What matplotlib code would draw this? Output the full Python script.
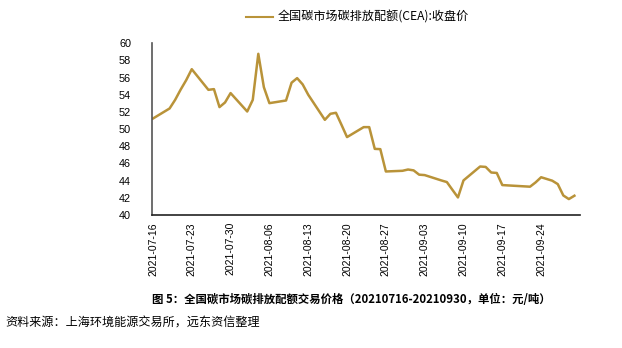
import matplotlib.pyplot as plt
import matplotlib.dates as mdates
from matplotlib.lines import Line2D
import pandas as pd

plt.rcParams['font.family'] = ['Liberation Sans', 'Noto Sans CJK SC', 'DejaVu Sans']

# CEA daily close, yuan/t (trading days only)
dates = [
    '2021-07-16', '2021-07-19', '2021-07-20', '2021-07-21', '2021-07-22', '2021-07-23',
    '2021-07-26', '2021-07-27', '2021-07-28', '2021-07-29', '2021-07-30',
    '2021-08-02', '2021-08-03', '2021-08-04', '2021-08-05', '2021-08-06',
    '2021-08-09', '2021-08-10', '2021-08-11', '2021-08-12', '2021-08-13',
    '2021-08-16', '2021-08-17', '2021-08-18', '2021-08-19', '2021-08-20',
    '2021-08-23', '2021-08-24', '2021-08-25', '2021-08-26', '2021-08-27',
    '2021-08-30', '2021-08-31', '2021-09-01', '2021-09-02', '2021-09-03',
    '2021-09-06', '2021-09-07', '2021-09-08', '2021-09-09', '2021-09-10',
    '2021-09-13', '2021-09-14', '2021-09-15', '2021-09-16', '2021-09-17', '2021-09-18',
    '2021-09-22', '2021-09-23', '2021-09-24', '2021-09-26',
    '2021-09-27', '2021-09-28', '2021-09-29', '2021-09-30',
]
close = [
    51.23, 52.40, 53.40, 54.60, 55.70, 56.97,
    54.57, 54.65, 52.56, 53.10, 54.19,
    52.05, 53.40, 58.76, 54.88, 53.02,
    53.33, 55.40, 55.93, 55.20, 54.00,
    51.08, 51.78, 51.90, 50.50, 49.07,
    50.23, 50.23, 47.70, 47.67, 45.07,
    45.15, 45.30, 45.20, 44.70, 44.65,
    44.03, 43.84, 42.94, 42.05, 44.03,
    45.65, 45.60, 44.95, 44.90, 43.49, 43.45,
    43.30, 43.80, 44.40, 44.00,
    43.60, 42.28, 41.86, 42.25,
]
tick_dates = ['2021-07-16', '2021-07-23', '2021-07-30', '2021-08-06', '2021-08-13',
              '2021-08-20', '2021-08-27', '2021-09-03', '2021-09-10', '2021-09-17',
              '2021-09-24']

x = pd.to_datetime(dates)
gold = '#B99339'
cjk = ['Noto Sans CJK SC', 'DejaVu Sans']

fig = plt.figure(figsize=(6.22, 3.48), dpi=100)
ax = fig.add_axes([0.2444, 0.382, 0.688, 0.494])
ax.plot(x, close, color=gold, lw=1.8)

ax.set_ylim(40, 60)
ax.set_yticks(range(40, 61, 2))
ax.set_xlim(pd.Timestamp('2021-07-16') - pd.Timedelta(hours=4), pd.Timestamp('2021-10-01'))
ax.set_xticks(pd.to_datetime(tick_dates))
ax.xaxis.set_major_formatter(mdates.DateFormatter('%Y-%m-%d'))
ax.tick_params(axis='x', labelrotation=90, length=0, pad=5, labelsize=7.5)
ax.tick_params(axis='y', length=0, pad=15, labelsize=7.8)

for s in ['top', 'right']:
    ax.spines[s].set_visible(False)
ax.spines['left'].set_color('#555555')
ax.spines['left'].set_linewidth(1.2)
ax.spines['bottom'].set_color('#222222')
ax.spines['bottom'].set_linewidth(1.2)

handle = Line2D([], [], color=gold, lw=1.5)
fig.legend([handle], ['全国碳市场碳排放配额(CEA):收盘价'], loc='center',
           bbox_to_anchor=(0.575, 0.95), frameon=False,
           handlelength=2.2, handletextpad=0.4,
           prop={'family': cjk, 'size': 8.7})

fig.text(0.565, 0.14, '图 5：全国碳市场碳排放配额交易价格（20210716-20210930，单位：元/吨）',
         ha='center', va='center', fontsize=8.2, fontweight='bold', family=cjk)
fig.text(0.008, 0.072, '资料来源：上海环境能源交易所，远东资信整理',
         ha='left', va='center', fontsize=8.7, family=cjk)

fig.savefig('out.png', dpi=100)
